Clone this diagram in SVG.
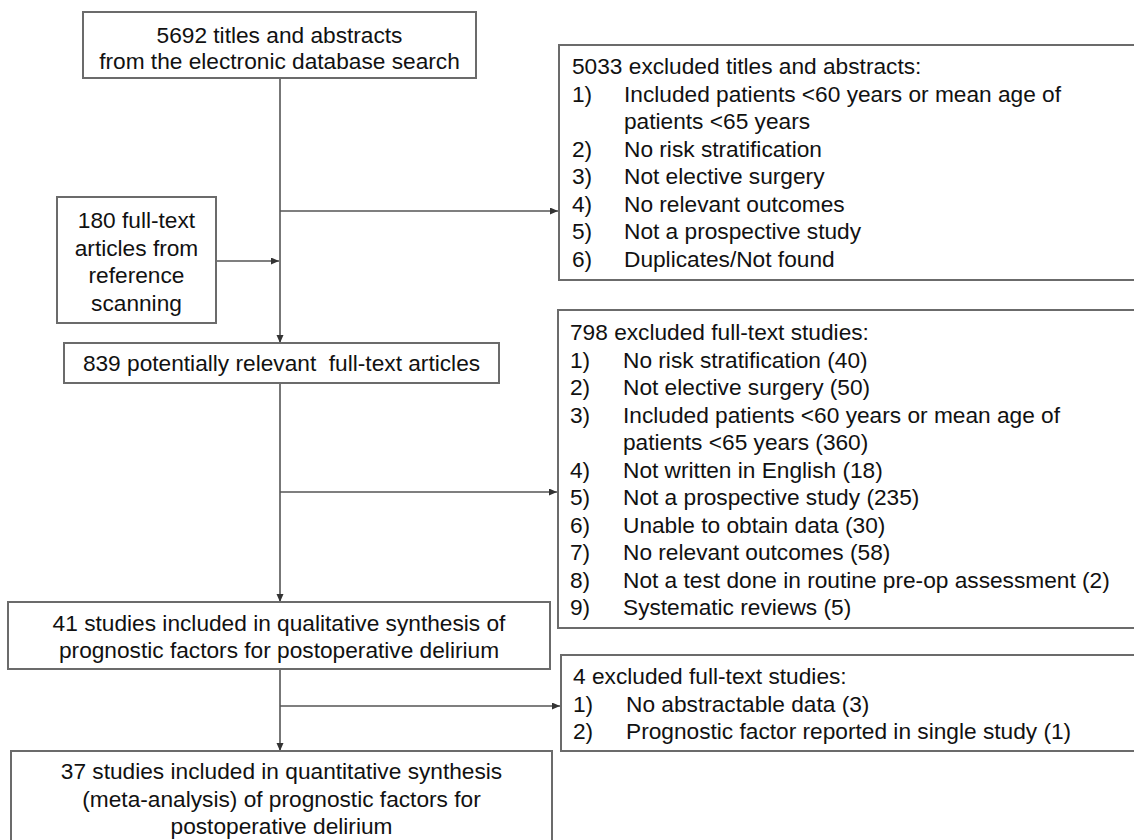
<svg xmlns="http://www.w3.org/2000/svg" width="1134" height="840" viewBox="0 0 1134 840">
<style>
.box{fill:#fff;stroke:#6b6b6b;stroke-width:2}
.t{font-family:"Liberation Sans",Arial,sans-serif;font-size:22.7px;fill:#111}
.c{text-anchor:middle}
.ln{fill:none;stroke:#555;stroke-width:1.6}
</style>
<defs>
<marker id="ah" markerUnits="userSpaceOnUse" markerWidth="9" markerHeight="8" refX="8" refY="3.5" orient="auto">
<path d="M0,0 L8,3.5 L0,7 z" fill="#333"/>
</marker>
</defs>
<rect width="1134" height="840" fill="#fff"/>
<g id="connectors">
<path class="ln" d="M280,78 V343" marker-end="url(#ah)"/>
<path class="ln" d="M280,211 H558" marker-end="url(#ah)"/>
<path class="ln" d="M216,261 H279" marker-end="url(#ah)"/>
<path class="ln" d="M280,383 V602" marker-end="url(#ah)"/>
<path class="ln" d="M280,492 H557" marker-end="url(#ah)"/>
<path class="ln" d="M280,669 V751" marker-end="url(#ah)"/>
<path class="ln" d="M280,706 H560" marker-end="url(#ah)"/>
</g>
<g id="n_search">
<rect class="box" x="83" y="12" width="393" height="66"/>
<text class="t c" x="279.5" y="42.5">5692 titles and abstracts</text>
<text class="t c" x="279.5" y="69">from the electronic database search</text>
</g>
<g id="n_reference">
<rect class="box" x="57" y="197" width="159" height="126"/>
<text class="t c" x="136.5" y="228">180 full-text</text>
<text class="t c" x="136.5" y="255.5">articles from</text>
<text class="t c" x="136.5" y="283">reference</text>
<text class="t c" x="136.5" y="310.5">scanning</text>
</g>
<g id="n_excluded1">
<rect class="box" x="559" y="45" width="600" height="235"/>
<text class="t" x="572" y="74">5033 excluded titles and abstracts:</text>
<text class="t" x="572" y="101.5">1)</text><text class="t" x="624" y="101.5">Included patients &lt;60 years or mean age of</text>
<text class="t" x="624" y="129">patients &lt;65 years</text>
<text class="t" x="572" y="156.5">2)</text><text class="t" x="624" y="156.5">No risk stratification</text>
<text class="t" x="572" y="184">3)</text><text class="t" x="624" y="184">Not elective surgery</text>
<text class="t" x="572" y="211.5">4)</text><text class="t" x="624" y="211.5">No relevant outcomes</text>
<text class="t" x="572" y="239">5)</text><text class="t" x="624" y="239">Not a prospective study</text>
<text class="t" x="572" y="266.5">6)</text><text class="t" x="624" y="266.5">Duplicates/Not found</text>
</g>
<g id="n_fulltext">
<rect class="box" x="64" y="343" width="435" height="40"/>
<text class="t c" x="281.5" y="371" xml:space="preserve" style="white-space:pre">839 potentially relevant  full-text articles</text>
</g>
<g id="n_excluded2">
<rect class="box" x="558" y="310" width="600" height="318"/>
<text class="t" x="570" y="340">798 excluded full-text studies:</text>
<text class="t" x="570" y="367.5">1)</text><text class="t" x="623" y="367.5">No risk stratification (40)</text>
<text class="t" x="570" y="395">2)</text><text class="t" x="623" y="395">Not elective surgery (50)</text>
<text class="t" x="570" y="422.5">3)</text><text class="t" x="623" y="422.5">Included patients &lt;60 years or mean age of</text>
<text class="t" x="623" y="450">patients &lt;65 years (360)</text>
<text class="t" x="570" y="477.5">4)</text><text class="t" x="623" y="477.5">Not written in English (18)</text>
<text class="t" x="570" y="505">5)</text><text class="t" x="623" y="505">Not a prospective study (235)</text>
<text class="t" x="570" y="532.5">6)</text><text class="t" x="623" y="532.5">Unable to obtain data (30)</text>
<text class="t" x="570" y="560">7)</text><text class="t" x="623" y="560">No relevant outcomes (58)</text>
<text class="t" x="570" y="587.5">8)</text><text class="t" x="623" y="587.5">Not a test done in routine pre-op assessment (2)</text>
<text class="t" x="570" y="615">9)</text><text class="t" x="623" y="615">Systematic reviews (5)</text>
</g>
<g id="n_qualitative">
<rect class="box" x="8" y="602" width="542" height="67"/>
<text class="t c" x="279" y="631">41 studies included in qualitative synthesis of</text>
<text class="t c" x="279" y="658">prognostic factors for postoperative delirium</text>
</g>
<g id="n_excluded3">
<rect class="box" x="561" y="655" width="600" height="96"/>
<text class="t" x="573" y="684">4 excluded full-text studies:</text>
<text class="t" x="573" y="711.5">1)</text><text class="t" x="626" y="711.5">No abstractable data (3)</text>
<text class="t" x="573" y="739">2)</text><text class="t" x="626" y="739">Prognostic factor reported in single study (1)</text>
</g>
<g id="n_quantitative">
<rect class="box" x="11" y="751" width="541" height="100"/>
<text class="t c" x="281.5" y="779">37 studies included in quantitative synthesis</text>
<text class="t c" x="281.5" y="806.5">(meta-analysis) of prognostic factors for</text>
<text class="t c" x="281.5" y="834">postoperative delirium</text>
</g>
</svg>
